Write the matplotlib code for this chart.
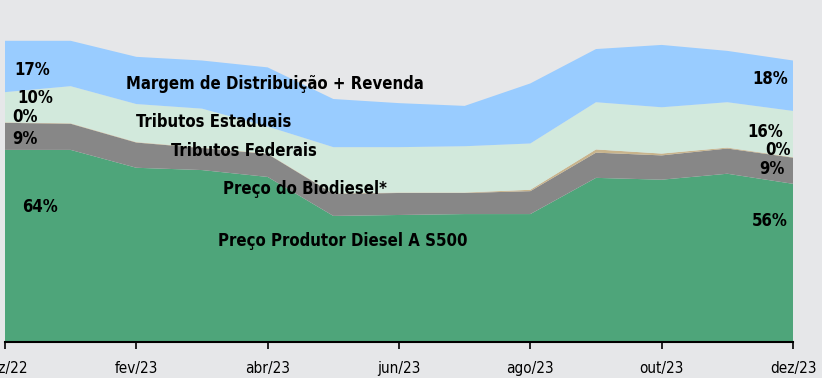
import matplotlib
matplotlib.use("Agg")
import matplotlib.pyplot as plt
import numpy as np

plt.rcParams['font.family'] = ['DejaVu Sans']
plt.rcParams['font.stretch'] = 'condensed'

# composição do preço do diesel S500 (R$/litro)
meses = ['dez/22', 'jan/23', 'fev/23', 'mar/23', 'abr/23', 'mai/23', 'jun/23',
         'jul/23', 'ago/23', 'set/23', 'out/23', 'nov/23', 'dez/23']
produtor = [4.18, 4.18, 3.79, 3.74, 3.59, 2.74, 2.76, 2.78, 2.78, 3.57, 3.53, 3.66, 3.44]
biodiesel = [0.59, 0.57, 0.55, 0.48, 0.50, 0.48, 0.48, 0.46, 0.50, 0.55, 0.53, 0.55, 0.57]
federais = [0.01, 0.01, 0.01, 0.01, 0.01, 0.01, 0.01, 0.01, 0.03, 0.07, 0.04, 0.02, 0.01]
estaduais = [0.66, 0.81, 0.83, 0.85, 0.59, 1.01, 0.99, 1.01, 1.01, 1.03, 1.01, 0.99, 1.01]
margem = [1.12, 0.99, 1.03, 1.05, 1.29, 1.05, 0.96, 0.88, 1.31, 1.16, 1.36, 1.12, 1.10]

nomes = ['Preço Produtor Diesel A S500', 'Preço do Biodiesel*', 'Tributos Federais',
         'Tributos Estaduais', 'Margem de Distribuição + Revenda']
cores = ['#4ea57a', '#878787', '#c8b48c', '#d2e9dc', '#99ccff']

bg = '#e6e7e9'
series = [produtor, biodiesel, federais, estaduais, margem]
x = np.arange(len(meses))

fig = plt.figure(figsize=(8.22, 3.78), dpi=100, facecolor=bg)
ax = fig.add_axes([5/822, 36.5/378, 788/822, 341.5/378])
ax.set_facecolor(bg)
ax.stackplot(x, *series, colors=cores, linewidth=0)

ax.set_xlim(0, 12)
ax.set_ylim(0, 7.45)
ax.set_xticks(x[::2])
ax.set_xticklabels(meses[::2], fontsize=11)
ax.tick_params(axis='x', length=5, width=1.2, color='black', pad=9)
ax.set_yticks([])
for s in ['top', 'right', 'left']:
    ax.spines[s].set_visible(False)
ax.spines['bottom'].set_linewidth(1.5)
ax.spines['bottom'].set_zorder(5)

# percentuais no início e no fim do período
def pct(i):
    tot = sum(s[i] for s in series)
    return [round(100 * s[i] / tot) for s in series]

esq = pct(0)
dir_ = pct(-1)
fs = 12
pos_esq = [(0.26, 2.94), (0.11, 4.42), (0.11, 4.90), (0.18, 5.32), (0.14, 5.93)]
pos_dir = [(11.92, 2.63), (11.88, 3.77), (11.96, 4.18), (11.85, 4.57), (11.92, 5.73)]
for v, (px, py) in zip(esq, pos_esq):
    ax.text(px, py, f'{v}%', ha='left', va='center', fontsize=fs, fontweight='bold')
for v, (px, py) in zip(dir_, pos_dir):
    ax.text(px, py, f'{v}%', ha='right', va='center', fontsize=fs, fontweight='bold')

# nomes das camadas
pos_nomes = [(5.15, 2.19), (4.57, 3.33), (3.64, 4.16), (3.18, 4.79), (4.11, 5.62)]
for nome, (px, py) in zip(nomes, pos_nomes):
    ax.text(px, py, nome, ha='center', va='center', fontsize=12, fontweight='bold')

fig.savefig('out.png', dpi=100, facecolor=bg)
